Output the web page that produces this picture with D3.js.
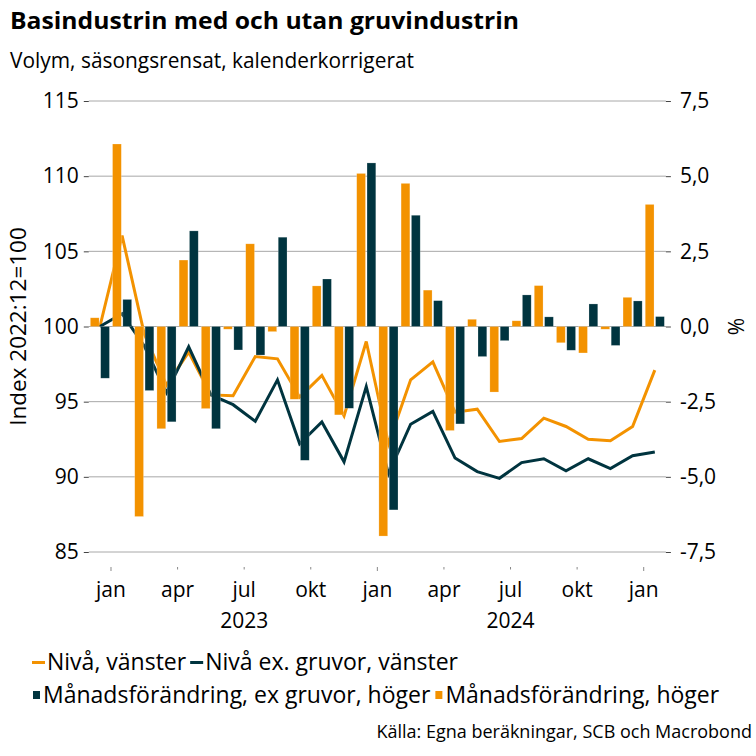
<!DOCTYPE html>
<html><head><meta charset="utf-8">
<script src="https://cdn.jsdelivr.net/npm/d3@7"></script>
<style>
html,body{margin:0;padding:0;background:#fff;}
svg text{font-family:"Open Sans","Noto Sans",sans-serif;fill:#000;}
</style></head>
<body><svg id="c" width="756" height="756"></svg>
<script>
// ---- data ----
const months = ["2022-12","2023-01","2023-02","2023-03","2023-04","2023-05","2023-06","2023-07","2023-08","2023-09","2023-10","2023-11","2023-12",
                "2024-01","2024-02","2024-03","2024-04","2024-05","2024-06","2024-07","2024-08","2024-09","2024-10","2024-11","2024-12","2025-01"];
const levelTotal = [100, 106.05, 99.5, 96.1, 98.3, 95.45, 95.4, 98.0, 97.85, 95.3, 96.75, 94.05, 99.0,
                    92.2, 96.45, 97.65, 94.3, 94.5, 92.35, 92.55, 93.9, 93.35, 92.5, 92.4, 93.35, 97.1];
const levelExMining = [100, 100.85, 98.7, 95.6, 98.65, 95.45, 94.8, 93.7, 96.45, 92.2, 93.65, 91.0, 96.0,
                       90.2, 93.5, 94.35, 91.25, 90.35, 89.9, 90.95, 91.2, 90.4, 91.2, 90.55, 91.4, 91.65];
const changeTotal = [0.29, 6.07, -6.32, -3.40, 2.21, -2.73, -0.09, 2.75, -0.17, -2.42, 1.35, -2.94, 5.09,
                     -6.97, 4.76, 1.21, -3.46, 0.24, -2.18, 0.19, 1.36, -0.54, -0.88, -0.09, 0.97, 4.06];
const changeExMining = [-1.72, 0.90, -2.13, -3.17, 3.18, -3.40, -0.78, -0.95, 2.97, -4.45, 1.58, -2.72, 5.44,
                        -6.10, 3.70, 0.86, -3.24, -1.00, -0.47, 1.05, 0.32, -0.79, 0.75, -0.63, 0.85, 0.33];
const xTickMonths = ["2023-01","2023-04","2023-07","2023-10","2024-01","2024-04","2024-07","2024-10","2025-01"];
const xTickLabels = ["jan","apr","jul","okt","jan","apr","jul","okt","jan"];
const yearMonths = ["2023-07","2024-07"];
const yearLabels = ["2023","2024"];
const leftTicks = [85, 90, 95, 100, 105, 110, 115];
const rightTicks = [-7.5, -5, -2.5, 0, 2.5, 5, 7.5];
const seriesNames = ["Nivå, vänster","Nivå ex. gruvor, vänster","Månadsförändring, ex gruvor, höger","Månadsförändring, höger"];
const title = "Basindustrin med och utan gruvindustrin";
const subtitle = "Volym, säsongsrensat, kalenderkorrigerat";
const leftTitle = "Index 2022:12=100";
const rightTitle = "%";
const source = "Källa: Egna beräkningar, SCB och Macrobond";

// ---- style ----
const ORANGE = "#F39200", DARK = "#00343F";
const svg = d3.select("#c");
const L = 88.8, R = 665.9, T = 101, B = 552;

const x = d3.scaleBand().domain(months).range([L, R]).paddingInner(0).paddingOuter(0);
const xs = d3.scaleBand().domain(["tot","ex"]).range([0, x.bandwidth()]).paddingInner(0.15).paddingOuter(0.15);
const yL = d3.scaleLinear().domain([85, 115]).range([B, T]);
const yR = d3.scaleLinear().domain([-7.5, 7.5]).range([B, T]);

// titles
svg.append("text").attr("x", 10).attr("y", 29).attr("font-size", 23.5).attr("font-weight", 700)
  .attr("textLength", 509).attr("lengthAdjust", "spacingAndGlyphs").text(title);
svg.append("text").attr("x", 10).attr("y", 68).attr("font-size", 21)
  .attr("textLength", 404).attr("lengthAdjust", "spacingAndGlyphs").text(subtitle);

// gridlines
svg.append("g").selectAll("line").data(leftTicks).join("line")
  .attr("x1", L).attr("x2", R).attr("y1", d => yL(d)).attr("y2", d => yL(d))
  .attr("stroke", "#a8a8a8").attr("stroke-width", 1);

// left axis
const fmtL = d => String(d);
const gl = svg.append("g").attr("transform", `translate(${L},0)`)
  .call(d3.axisLeft(yL).tickValues(leftTicks).tickSize(5).tickPadding(5).tickFormat(fmtL));
gl.select(".domain").remove();
gl.selectAll(".tick line").attr("stroke", "#444");
gl.selectAll(".tick text").attr("font-size", 21).attr("font-family", '"Open Sans",sans-serif').attr("fill", "#000");

// right axis
const fmtR = d => d3.format(".1f")(d).replace(".", ",").replace("−", "-");
const gr = svg.append("g").attr("transform", `translate(${R},0)`)
  .call(d3.axisRight(yR).tickValues(rightTicks).tickSize(5).tickPadding(9).tickFormat(fmtR));
gr.select(".domain").remove();
gr.selectAll(".tick line").attr("stroke", "#444");
gr.selectAll(".tick text").attr("font-size", 21).attr("font-family", '"Open Sans",sans-serif').attr("fill", "#000");

// axis titles
svg.append("text").attr("transform", `translate(26,${(T+B)/2}) rotate(-90)`).attr("text-anchor", "middle")
  .attr("font-size", 22.5).text(leftTitle);
svg.append("text").attr("transform", `translate(744,${(T+B)/2}) rotate(-90)`).attr("text-anchor", "middle")
  .attr("font-size", 21).text(rightTitle);

// x axis ticks and labels
const gx = svg.append("g");
gx.selectAll("line").data(xTickMonths).join("line")
  .attr("x1", d => x(d)).attr("x2", d => x(d))
  .attr("y1", 567).attr("y2", (d, i) => xTickLabels[i] === "jan" ? 571 : 569.5)
  .attr("stroke", "#888").attr("stroke-width", 1);
gx.selectAll("text.m").data(xTickMonths).join("text").attr("class", "m")
  .attr("x", d => x(d)).attr("y", 597).attr("text-anchor", "middle").attr("font-size", 21)
  .text((d, i) => xTickLabels[i]);
gx.selectAll("text.y").data(yearMonths).join("text").attr("class", "y")
  .attr("x", d => x(d)).attr("y", 628).attr("text-anchor", "middle").attr("font-size", 21)
  .text((d, i) => yearLabels[i]);

// lines (drawn below bars)
const lineL = d3.line().x((d, i) => x(months[i]) + x.bandwidth() / 2).y(d => yL(d));
svg.append("path").datum(levelTotal).attr("d", lineL).attr("fill", "none")
  .attr("stroke", ORANGE).attr("stroke-width", 3).attr("stroke-linejoin", "miter");
svg.append("path").datum(levelExMining).attr("d", lineL).attr("fill", "none")
  .attr("stroke", DARK).attr("stroke-width", 3).attr("stroke-linejoin", "miter");

// bars
const barData = months.flatMap((m, i) => [
  {m, key: "tot", v: changeTotal[i], c: ORANGE},
  {m, key: "ex", v: changeExMining[i], c: DARK}
]);
svg.append("g").selectAll("rect").data(barData).join("rect")
  .attr("x", d => x(d.m) + xs(d.key)).attr("width", xs.bandwidth())
  .attr("y", d => Math.min(yR(0), yR(d.v))).attr("height", d => Math.abs(yR(d.v) - yR(0)))
  .attr("fill", d => d.c).attr("stroke", "rgba(255,255,255,0.35)").attr("stroke-width", 0.6);

// legend
const lg = svg.append("g").attr("font-size", 23);
function legendItem(xp, yp, type, color, label) {
  if (type === "line") {
    lg.append("rect").attr("x", xp).attr("y", yp - 9).attr("width", 13).attr("height", 3).attr("fill", color);
  } else {
    lg.append("rect").attr("x", xp + 1).attr("y", yp - 12).attr("width", 7).attr("height", 8).attr("fill", color);
  }
  const t = lg.append("text").attr("x", xp + (type === "line" ? 15 : 11)).attr("y", yp).text(label);
  return xp + (type === "line" ? 15 : 11) + t.node().getComputedTextLength() + 4;
}
let nx = legendItem(32, 670, "line", ORANGE, seriesNames[0]);
legendItem(nx, 670, "line", DARK, seriesNames[1]);
nx = legendItem(32, 703, "sq", DARK, seriesNames[2]);
legendItem(nx, 703, "sq", ORANGE, seriesNames[3]);

svg.append("text").attr("x", 752).attr("y", 738).attr("text-anchor", "end").attr("font-size", 18).text(source);
</script></body></html>
